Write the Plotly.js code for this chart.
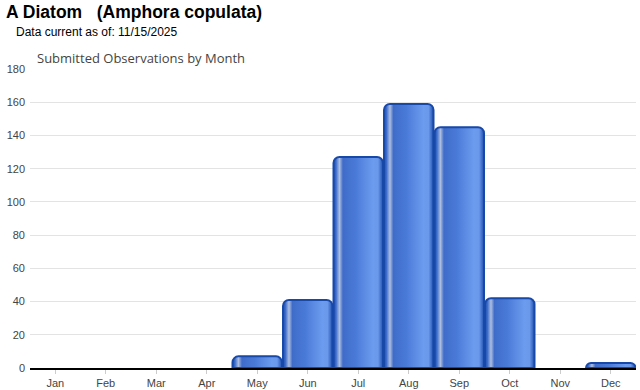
<!DOCTYPE html>
<html>
<head>
<meta charset="utf-8">
<script src="https://cdn.plot.ly/plotly-3.0.1.min.js"></script>
<style>
html,body{margin:0;padding:0;background:#fff;}
#chart{width:640px;height:390px;}
</style>
</head>
<body>
<div id="chart"></div>
<script>
const months = ["Jan","Feb","Mar","Apr","May","Jun","Jul","Aug","Sep","Oct","Nov","Dec"];
const observations = [0,0,0,0,7,41,127,159,145,42,0,3];
const yTicks = [0,20,40,60,80,100,120,140,160,180];

const W = 640, H = 390;

const trace = {
  type: "bar",
  x: months,
  y: observations,
  marker: {
    color: "#3f6fd0",
    line: {color: "#1848a8", width: observations.map(function(v){ return v > 0 ? 2 : 0; })},
    cornerradius: 6
  },
  hoverinfo: "x+y"
};

const layout = {
  width: W,
  height: H,
  margin: {l: 30, r: 4, t: 69, b: 22},
  paper_bgcolor: "#fff",
  plot_bgcolor: "#fff",
  showlegend: false,
  bargap: 0.02,
  title: {
    text: "<b>A Diatom\u00a0\u00a0\u00a0(Amphora copulata)</b>",
    font: {family: "Liberation Sans, Arial, sans-serif", size: 17.5, color: "#000"},
    x: 6 / W, xref: "container", xanchor: "left",
    y: 1 - 6 / H, yref: "container", yanchor: "top",
    pad: {t: 0, b: 0, l: 0, r: 0}
  },
  annotations: [
    {text: "Data current as of: 11/15/2025", xref: "paper", yref: "paper",
     x: -16 / 606, y: 1 + 37 / 299, xanchor: "left", yanchor: "middle", showarrow: false,
     font: {family: "Liberation Sans, Arial, sans-serif", size: 12, color: "#000"}},
    {text: "Submitted Observations by Month", xref: "paper", yref: "paper",
     x: 5 / 606, y: 1 + 11 / 299, xanchor: "left", yanchor: "middle", showarrow: false,
     font: {family: "Open Sans, sans-serif", size: 13, color: "#444"}}
  ],
  xaxis: {
    type: "category",
    categoryarray: months,
    tickfont: {family: "Liberation Sans, Arial, sans-serif", size: 11, color: "#444"},
    ticks: "outside", ticklen: 4, tickcolor: "#ccc",
    showline: true, linecolor: "#000", linewidth: 2,
    showgrid: false, zeroline: false, fixedrange: true
  },
  yaxis: {
    range: [0, 180],
    tickvals: yTicks,
    ticktext: yTicks.map(String),
    tickfont: {family: "Liberation Sans, Arial, sans-serif", size: 11, color: "#444"},
    gridcolor: "#e3e3e3", gridwidth: 1,
    zeroline: false, showline: false, ticks: "", ticklabelstandoff: 4,
    fixedrange: true
  }
};

Plotly.newPlot("chart", [trace], layout, {displayModeBar: false, staticPlot: true}).then(function(){
  const svg = document.querySelector("#chart .main-svg");
  const ns = "http://www.w3.org/2000/svg";
  let defs = svg.querySelector("defs");
  if (!defs) { defs = document.createElementNS(ns, "defs"); svg.insertBefore(defs, svg.firstChild); }
  const g = document.createElementNS(ns, "linearGradient");
  g.setAttribute("id", "barGrad");
  g.setAttribute("x1", "0"); g.setAttribute("y1", "0");
  g.setAttribute("x2", "1"); g.setAttribute("y2", "0");
  const stops = [
    [0, "#1c4fb0"], [0.05, "#3d6ccc"], [0.12, "#aebfe0"], [0.19, "#3f6cc9"],
    [0.45, "#4a7ad8"], [0.8, "#6c9cee"], [0.9, "#6a98ea"], [1, "#1f50b0"]
  ];
  stops.forEach(function(s){
    const st = document.createElementNS(ns, "stop");
    st.setAttribute("offset", s[0]);
    st.setAttribute("stop-color", s[1]);
    g.appendChild(st);
  });
  defs.appendChild(g);
  document.querySelectorAll("#chart .bars .point path").forEach(function(p){
    p.style.fill = "url(#barGrad)";
  });
});
</script>
</body>
</html>
